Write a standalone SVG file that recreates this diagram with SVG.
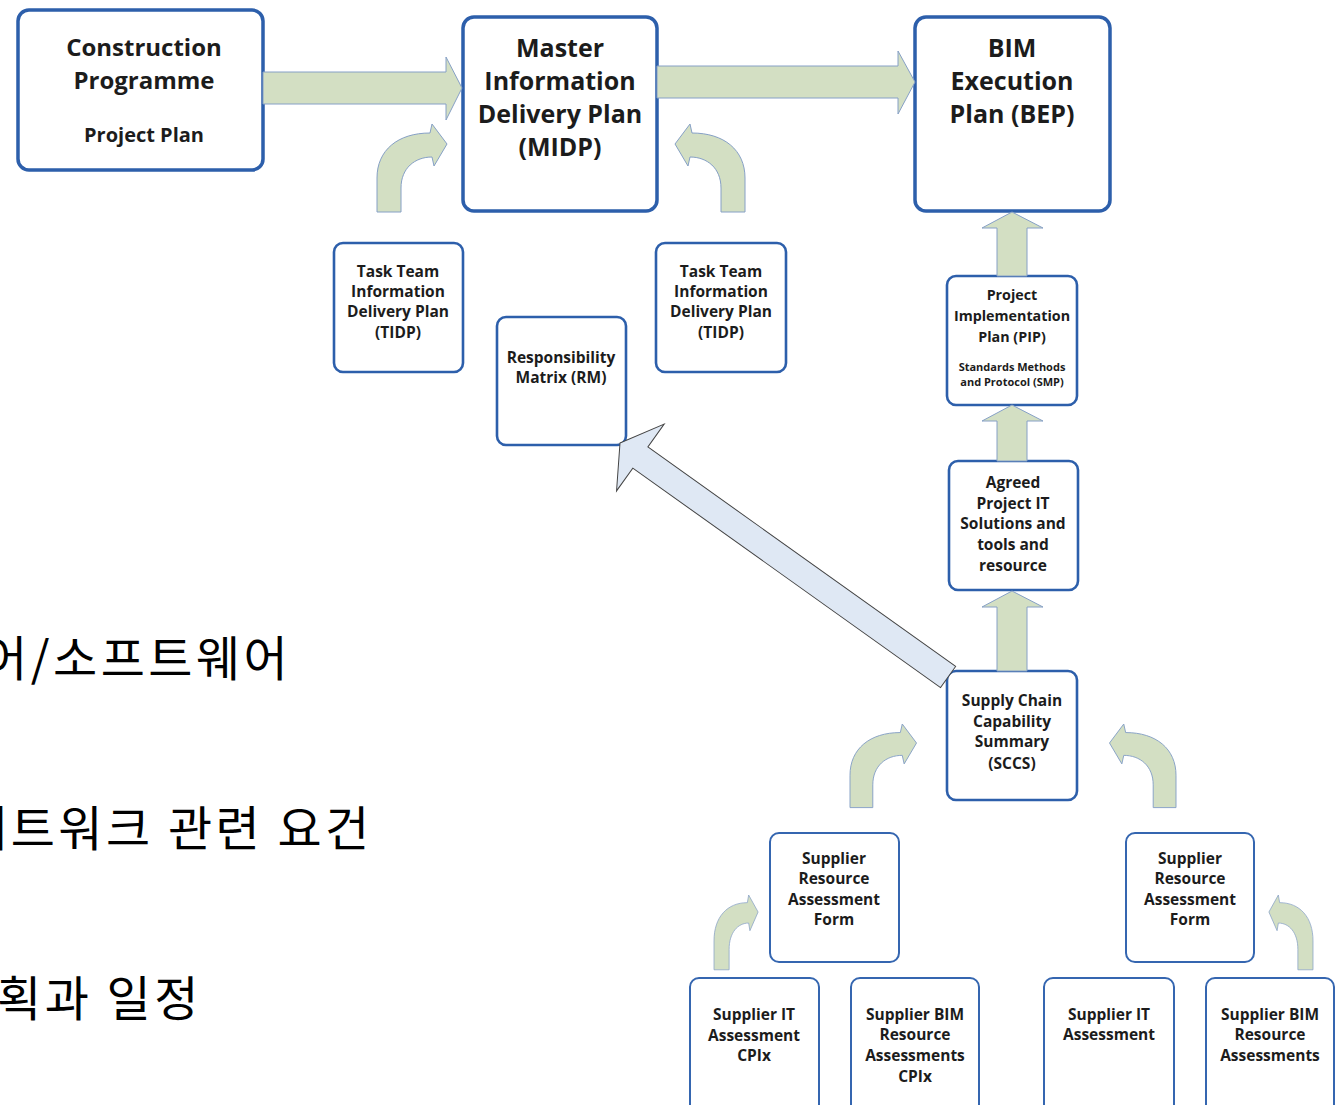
<svg xmlns="http://www.w3.org/2000/svg" width="1335" height="1105" viewBox="0 0 1335 1105">
<style>
.box{fill:#fff;stroke:#2d5fab;stroke-width:3.5}
.sbox{fill:#fff;stroke:#2d5fab;stroke-width:2.6}
.bbox{fill:#fff;stroke:#3566b0;stroke-width:2}
.t{font-family:"Open Sans","Liberation Sans",sans-serif;font-weight:700;fill:#1c1c1c;text-anchor:middle}
.big{font-size:25px}
.cp{font-size:24px}
.mid{font-size:20px}
.sm{font-size:15.5px}
.pip{font-size:14.3px}
.xs{font-size:11px}
.arrow{fill:#d3dfc3;stroke:#86a0c6;stroke-width:1}
.diag{fill:#dfe8f4;stroke:#444;stroke-width:1}
.kr{font-family:"Noto Sans CJK KR",sans-serif;font-size:48px;letter-spacing:3.5px;fill:#000}
</style>
<defs>
<path id="bend" d="M0,88 L0,54 C0,26 21,9 53,9 L55,0 L70,20 L57,42 L55,33 C38,33 24,44 24,64 L24,88 Z"/>
</defs>
<rect width="1335" height="1105" fill="#fff"/>

<g id="korean-text">
<text class="kr" x="-17" y="676">어/소프트웨어</text>
<text class="kr" x="-37" y="846">네트워크 관련 요건</text>
<text class="kr" x="-3" y="1016">획과 일정</text>
</g>

<g id="construction">
<rect class="box" x="18" y="10" width="245" height="160" rx="11"/>
<text class="t cp" x="144" y="56">Construction</text>
<text class="t cp" x="144" y="89">Programme</text>
<text class="t mid" x="144" y="142">Project Plan</text>
</g>
<g id="midp">
<rect class="box" x="463" y="17" width="194" height="194" rx="11"/>
<text class="t big" x="560" y="57">Master</text>
<text class="t big" x="560" y="90">Information</text>
<text class="t big" x="560" y="123">Delivery Plan</text>
<text class="t big" x="560" y="156">(MIDP)</text>
</g>
<g id="bep">
<rect class="box" x="915" y="17" width="195" height="194" rx="11"/>
<text class="t big" x="1012" y="57">BIM</text>
<text class="t big" x="1012" y="90">Execution</text>
<text class="t big" x="1012" y="123">Plan (BEP)</text>
</g>
<g id="tidp-left">
<rect class="sbox" x="334" y="243" width="129" height="129" rx="9"/>
<text class="t sm" x="398" y="277">Task Team</text>
<text class="t sm" x="398" y="297">Information</text>
<text class="t sm" x="398" y="317">Delivery Plan</text>
<text class="t sm" x="398" y="338">(TIDP)</text>
</g>
<g id="tidp-right">
<rect class="sbox" x="656" y="243" width="130" height="129" rx="9"/>
<text class="t sm" x="721" y="277">Task Team</text>
<text class="t sm" x="721" y="297">Information</text>
<text class="t sm" x="721" y="317">Delivery Plan</text>
<text class="t sm" x="721" y="338">(TIDP)</text>
</g>
<g id="rm">
<rect class="sbox" x="497" y="317" width="129" height="128" rx="9"/>
<text class="t sm" x="561" y="363">Responsibility</text>
<text class="t sm" x="561" y="383">Matrix (RM)</text>
</g>
<g id="pip">
<rect class="sbox" x="947" y="276" width="130" height="129" rx="9"/>
<text class="t pip" x="1012" y="300">Project</text>
<text class="t pip" x="1012" y="321">Implementation</text>
<text class="t pip" x="1012" y="342">Plan (PIP)</text>
<text class="t xs" x="1012" y="371">Standards Methods</text>
<text class="t xs" x="1012" y="386">and Protocol (SMP)</text>
</g>
<g id="agreed">
<rect class="sbox" x="949" y="461" width="129" height="129" rx="9"/>
<text class="t sm" x="1013" y="488">Agreed</text>
<text class="t sm" x="1013" y="509">Project IT</text>
<text class="t sm" x="1013" y="529">Solutions and</text>
<text class="t sm" x="1013" y="550">tools and</text>
<text class="t sm" x="1013" y="571">resource</text>
</g>
<g id="sccs">
<rect class="sbox" x="947" y="671" width="130" height="129" rx="9"/>
<text class="t sm" x="1012" y="706">Supply Chain</text>
<text class="t sm" x="1012" y="727">Capability</text>
<text class="t sm" x="1012" y="747">Summary</text>
<text class="t sm" x="1012" y="769">(SCCS)</text>
</g>
<g id="sraf-left">
<rect class="bbox" x="770" y="833" width="129" height="129" rx="9"/>
<text class="t sm" x="834" y="864">Supplier</text>
<text class="t sm" x="834" y="884">Resource</text>
<text class="t sm" x="834" y="905">Assessment</text>
<text class="t sm" x="834" y="925">Form</text>
</g>
<g id="sraf-right">
<rect class="bbox" x="1126" y="833" width="128" height="129" rx="9"/>
<text class="t sm" x="1190" y="864">Supplier</text>
<text class="t sm" x="1190" y="884">Resource</text>
<text class="t sm" x="1190" y="905">Assessment</text>
<text class="t sm" x="1190" y="925">Form</text>
</g>
<g id="sit-cpix">
<rect class="bbox" x="690" y="978" width="129" height="140" rx="9"/>
<text class="t sm" x="754" y="1020">Supplier IT</text>
<text class="t sm" x="754" y="1041">Assessment</text>
<text class="t sm" x="754" y="1061">CPIx</text>
</g>
<g id="sbim-cpix">
<rect class="bbox" x="851" y="978" width="128" height="140" rx="9"/>
<text class="t sm" x="915" y="1020">Supplier BIM</text>
<text class="t sm" x="915" y="1040">Resource</text>
<text class="t sm" x="915" y="1061">Assessments</text>
<text class="t sm" x="915" y="1082">CPIx</text>
</g>
<g id="sit">
<rect class="bbox" x="1044" y="978" width="130" height="140" rx="9"/>
<text class="t sm" x="1109" y="1020">Supplier IT</text>
<text class="t sm" x="1109" y="1040">Assessment</text>
</g>
<g id="sbim">
<rect class="bbox" x="1206" y="978" width="128" height="140" rx="9"/>
<text class="t sm" x="1270" y="1020">Supplier BIM</text>
<text class="t sm" x="1270" y="1040">Resource</text>
<text class="t sm" x="1270" y="1061">Assessments</text>
</g>

<g id="connectors">
<polygon class="arrow" points="263,72 446,72 446,57 462,88 446,120 446,104 263,104"/>
<polygon class="arrow" points="657,66 898,66 898,51 915,82 898,114 898,98 657,98"/>
<polygon class="arrow" points="997,276 997,228 982,228 1012,212 1043,228 1027,228 1027,276"/>
<polygon class="arrow" points="997,461 997,421 982,421 1012,405 1043,421 1027,421 1027,461"/>
<polygon class="arrow" points="997,671 997,607 982,607 1012,591 1043,607 1027,607 1027,671"/>
<use href="#bend" class="arrow" transform="translate(377,124)"/>
<use href="#bend" class="arrow" transform="translate(745,124) scale(-1,1)"/>
<use href="#bend" class="arrow" transform="translate(850,724) scale(0.95,0.95)"/>
<use href="#bend" class="arrow" transform="translate(1176,724) scale(-0.95,0.95)"/>
<use href="#bend" class="arrow" vector-effect="non-scaling-stroke" transform="translate(714,895) scale(0.63,0.85)"/>
<use href="#bend" class="arrow" vector-effect="non-scaling-stroke" transform="translate(1313,895) scale(-0.63,0.85)"/>
<polygon class="diag" transform="translate(620,443) rotate(35.5)" points="0,0 25,-41 25,-13 403,-13 403,13 25,13 25,41"/>
</g>
</svg>
